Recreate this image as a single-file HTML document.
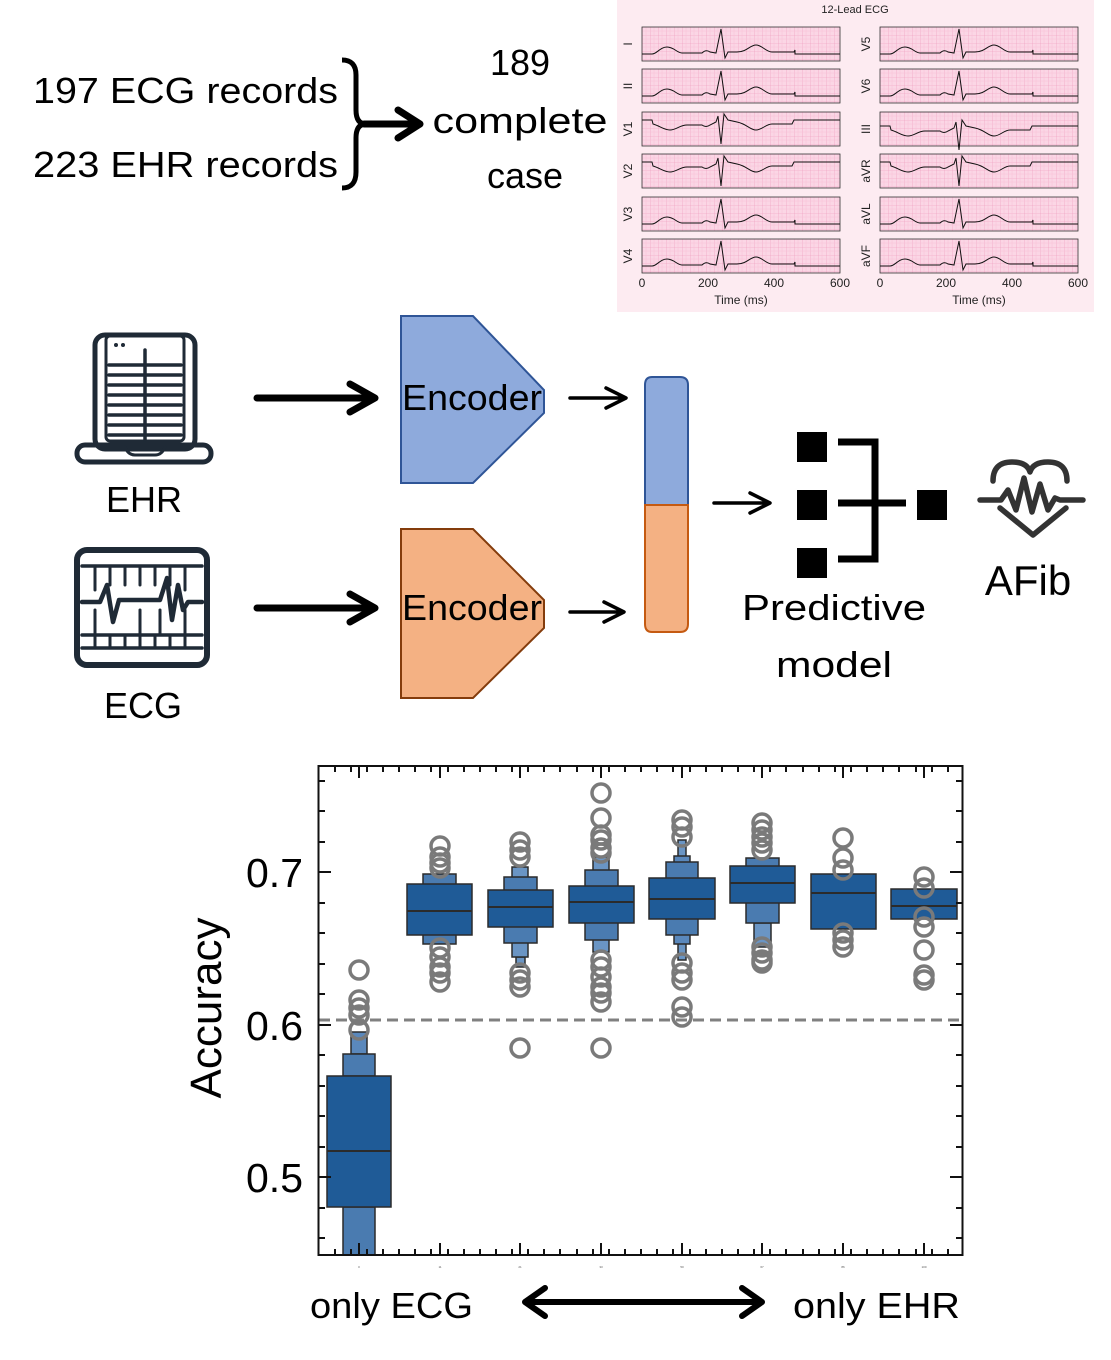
<!DOCTYPE html>
<html><head><meta charset="utf-8"><style>
html,body{margin:0;padding:0;background:#fff;}
svg{display:block;}
text{font-family:"Liberation Sans",sans-serif;}
</style></head><body>
<svg width="1111" height="1360" viewBox="0 0 1111 1360" xmlns="http://www.w3.org/2000/svg">
<defs>
<pattern id="grid" x="0" y="0" width="8" height="8" patternUnits="userSpaceOnUse">
<rect width="8" height="8" fill="#fbd6e5"/>
<path d="M0 0H8M0 0V8" stroke="#ee97bb" stroke-width="0.6"/>
<path d="M0 4H8M4 0V8" stroke="#f7bcd3" stroke-width="0.4"/>
</pattern>
<path id="tr" d="M0,27 L10,27 C15,27 18,20 25,20 C32,20 35,26 40,26 L60,26 Q64,22 68,25 L74,26 L79,2 L83,31 L86,25 L95,25 C105,25 108,18 114,18 C120,18 124,25 130,25 L152,25 L153,23 L153,27 L198,27" fill="none" stroke="#111" stroke-width="1"/>
<path id="tr2" d="M0,8 L10,8 L11,12 C18,14 22,18 28,18 C34,18 38,13 45,13 L60,13 Q64,16 68,13 L74,10 L76,4 L79,32 L82,2 L86,8 L95,10 C105,12 108,18 114,18 C120,18 124,12 130,12 L150,12 L152,8 L198,8" fill="none" stroke="#111" stroke-width="1"/>
</defs>

<!-- top-left text -->
<g font-size="36" fill="#000">
<text x="33" y="103" textLength="305" lengthAdjust="spacingAndGlyphs">197 ECG records</text>
<text x="33" y="177" textLength="305" lengthAdjust="spacingAndGlyphs">223 EHR records</text>
<text x="520" y="75" text-anchor="middle">189</text>
<text x="520" y="133" text-anchor="middle" textLength="175" lengthAdjust="spacingAndGlyphs">complete</text>
<text x="525" y="188" text-anchor="middle">case</text>
</g>
<path d="M342,60 Q356,60 356,75 L356,110 Q356,124 366,124 Q356,124 356,138 L356,172 Q356,188 342,188" fill="none" stroke="#000" stroke-width="5"/>
<path d="M364,124 H418 M398,110 L420,124 L398,138" fill="none" stroke="#000" stroke-width="7" stroke-linecap="round" stroke-linejoin="round"/>

<!-- ECG panel -->
<rect x="617" y="0" width="477" height="312" fill="#fdebf1"/>
<text x="855" y="13" font-size="11" text-anchor="middle" fill="#222">12-Lead ECG</text>
<g>
<g transform="translate(642,27)"><rect width="198" height="34" fill="url(#grid)" stroke="#333" stroke-width="0.8"/><use href="#tr"/></g>
<g transform="translate(642,69)"><rect width="198" height="34" fill="url(#grid)" stroke="#333" stroke-width="0.8"/><use href="#tr"/></g>
<g transform="translate(642,112)"><rect width="198" height="34" fill="url(#grid)" stroke="#333" stroke-width="0.8"/><use href="#tr2"/></g>
<g transform="translate(642,154)"><rect width="198" height="34" fill="url(#grid)" stroke="#333" stroke-width="0.8"/><use href="#tr2"/></g>
<g transform="translate(642,197)"><rect width="198" height="34" fill="url(#grid)" stroke="#333" stroke-width="0.8"/><use href="#tr"/></g>
<g transform="translate(642,239)"><rect width="198" height="34" fill="url(#grid)" stroke="#333" stroke-width="0.8"/><use href="#tr"/></g>
</g>
<g>
<g transform="translate(880,27)"><rect width="198" height="34" fill="url(#grid)" stroke="#333" stroke-width="0.8"/><use href="#tr"/></g>
<g transform="translate(880,69)"><rect width="198" height="34" fill="url(#grid)" stroke="#333" stroke-width="0.8"/><use href="#tr"/></g>
<g transform="translate(880,112)"><rect width="198" height="34" fill="url(#grid)" stroke="#333" stroke-width="0.8"/><use href="#tr2" transform="translate(0,6)"/></g>
<g transform="translate(880,154)"><rect width="198" height="34" fill="url(#grid)" stroke="#333" stroke-width="0.8"/><use href="#tr2"/></g>
<g transform="translate(880,197)"><rect width="198" height="34" fill="url(#grid)" stroke="#333" stroke-width="0.8"/><use href="#tr"/></g>
<g transform="translate(880,239)"><rect width="198" height="34" fill="url(#grid)" stroke="#333" stroke-width="0.8"/><use href="#tr"/></g>
</g>
<g font-size="12" fill="#222" text-anchor="middle">
<text transform="translate(632,44) rotate(-90)">I</text>
<text transform="translate(632,86) rotate(-90)">II</text>
<text transform="translate(632,129) rotate(-90)">V1</text>
<text transform="translate(632,171) rotate(-90)">V2</text>
<text transform="translate(632,214) rotate(-90)">V3</text>
<text transform="translate(632,256) rotate(-90)">V4</text>
<text transform="translate(870,44) rotate(-90)">V5</text>
<text transform="translate(870,86) rotate(-90)">V6</text>
<text transform="translate(870,129) rotate(-90)">III</text>
<text transform="translate(870,171) rotate(-90)">aVR</text>
<text transform="translate(870,214) rotate(-90)">aVL</text>
<text transform="translate(870,256) rotate(-90)">aVF</text>
<text x="642" y="287">0</text><text x="708" y="287">200</text><text x="774" y="287">400</text><text x="840" y="287">600</text>
<text x="880" y="287">0</text><text x="946" y="287">200</text><text x="1012" y="287">400</text><text x="1078" y="287">600</text>
<text x="741" y="304">Time (ms)</text><text x="979" y="304">Time (ms)</text>
</g>

<!-- EHR icon -->
<g fill="none" stroke="#1f2a36" stroke-width="5" stroke-linecap="round">
<rect x="95" y="335" width="100" height="114" rx="10"/>
<rect x="106" y="336" width="78" height="105" rx="4" stroke-width="3"/>
<path d="M109,365 H181 M109,375 H181 M109,385 H181 M109,395 H181 M109,405 H181 M109,415 H181 M109,425 H181 M109,435 H181" stroke-width="3.5"/>
<path d="M145,350 V440" stroke-width="3.5"/>
<rect x="77" y="445" width="134" height="17" rx="8"/>
<path d="M125,447 Q128,455 135,455 H155 Q162,455 165,447" stroke-width="3"/>
</g>
<circle cx="116" cy="345" r="2" fill="#1f2a36"/><circle cx="123" cy="345" r="2" fill="#1f2a36"/>
<text x="144" y="512" font-size="36" text-anchor="middle">EHR</text>

<!-- ECG icon -->
<g fill="none" stroke="#1f2a36" stroke-linecap="round">
<rect x="77" y="550" width="130" height="115" rx="10" stroke-width="6"/>
<path d="M82,566 H202 M82,648 H202 M82,635 H202" stroke-width="3.5"/>
<path d="M95,566 V590 M110,566 V585 M125,566 V585 M140,566 V585 M155,566 V585 M170,566 V585 M185,566 V590 M95,610 V635 M140,610 V635 M160,610 V635 M185,610 V635 M95,635 V648 M110,635 V648 M125,635 V648 M140,635 V648 M155,635 V648 M170,635 V648 M185,635 V648" stroke-width="3"/>
<path d="M82,602 H100 L107,585 L113,622 L119,600 H160 L167,578 L172,620 L178,585 L183,610 L188,602 H202" stroke-width="4.5" stroke-linejoin="round"/>
</g>
<text x="143" y="718" font-size="36" text-anchor="middle">ECG</text>

<!-- thick arrows -->
<g fill="none" stroke="#000" stroke-width="7" stroke-linecap="round" stroke-linejoin="round">
<path d="M257,398 H372 M350,384 L375,398 L350,412"/>
<path d="M257,608 H372 M350,594 L375,608 L350,622"/>
</g>

<!-- encoders -->
<polygon points="401,316 473,316 544,390 544,413 473,483 401,483" fill="#8eaadc" stroke="#2f5597" stroke-width="2"/>
<polygon points="401,529 473,529 544,600 544,628 473,698 401,698" fill="#f4b183" stroke="#843c0c" stroke-width="2"/>
<text x="472" y="410" font-size="36" text-anchor="middle" textLength="140" lengthAdjust="spacingAndGlyphs">Encoder</text>
<text x="472" y="620" font-size="36" text-anchor="middle" textLength="140" lengthAdjust="spacingAndGlyphs">Encoder</text>

<!-- small arrows -->
<g fill="none" stroke="#000" stroke-width="3.5" stroke-linecap="round" stroke-linejoin="round">
<path d="M570,398 H624 M606,388 L626,398 L606,408"/>
<path d="M570,612 H622 M604,602 L624,612 L604,622"/>
<path d="M714,503 H768 M750,493 L770,503 L750,513"/>
</g>

<!-- vector -->
<path d="M652,377 H680 Q688,377 688,385 V505 H645 V385 Q645,377 652,377 Z" fill="#8eaadc" stroke="#2f5597" stroke-width="2"/>
<path d="M645,505 H688 V624 Q688,632 680,632 H652 Q645,632 645,624 Z" fill="#f4b183" stroke="#c55a11" stroke-width="2"/>

<!-- predictive model icon -->
<g fill="#000">
<rect x="797" y="432" width="30" height="30"/>
<rect x="797" y="490" width="30" height="30"/>
<rect x="797" y="548" width="30" height="30"/>
<rect x="917" y="490" width="30" height="30"/>
</g>
<path d="M838,442 H875 V559 H838 M838,503 H906" fill="none" stroke="#000" stroke-width="7"/>
<text x="834" y="620" font-size="36" text-anchor="middle" textLength="184" lengthAdjust="spacingAndGlyphs">Predictive</text>
<text x="834" y="677" font-size="36" text-anchor="middle" textLength="116" lengthAdjust="spacingAndGlyphs">model</text>

<!-- heart -->
<g fill="none" stroke="#333" stroke-width="5.5" stroke-linecap="round" stroke-linejoin="round">
<path d="M993,481 Q993,462 1012,462 Q1027,462 1030,472 Q1033,462 1048,462 Q1067,462 1067,481"/>
<path d="M1000,508 L1033,535 L1066,508"/>
<path d="M980,500 H1001 L1008,490 L1016,510 L1024,478 L1032,512 L1040,484 L1048,510 L1055,498 L1060,500 H1083"/>
</g>
<text x="1028" y="595" font-size="42" text-anchor="middle">AFib</text>

<!-- plot -->
<g>
<line x1="319" y1="1020" x2="962" y2="1020" stroke="#808080" stroke-width="3" stroke-dasharray="11,6"/>
<g stroke="#2b2b2b" stroke-width="1.5">
<rect x="343" y="1207" width="32" height="48" fill="#4a7bb0"/>
<rect x="351" y="1032" width="16" height="22" fill="#5a88bc"/>
<rect x="343" y="1054" width="32" height="22" fill="#4a7bb0"/>
<rect x="327" y="1076" width="64" height="131" fill="#1f5b97"/>
<line x1="327" y1="1151" x2="391" y2="1151" stroke-width="2"/>
<rect x="423" y="874" width="33" height="70" fill="#4a7bb0"/>
<rect x="407" y="884" width="65" height="51" fill="#1f5b97"/>
<line x1="407" y1="911" x2="472" y2="911" stroke-width="2"/>
<rect x="516" y="957" width="9" height="10" fill="#6a95c4"/>
<rect x="512" y="867" width="16" height="90" fill="#6a95c4"/>
<rect x="504" y="877" width="33" height="66" fill="#4a7bb0"/>
<rect x="488" y="890" width="65" height="37" fill="#1f5b97"/>
<line x1="488" y1="907" x2="553" y2="907" stroke-width="2"/>
<rect x="593" y="857" width="16" height="95" fill="#6a95c4"/>
<rect x="585" y="870" width="33" height="70" fill="#4a7bb0"/>
<rect x="569" y="886" width="65" height="37" fill="#1f5b97"/>
<line x1="569" y1="902" x2="634" y2="902" stroke-width="2"/>
<rect x="678" y="840" width="8" height="120" fill="#6a95c4"/>
<rect x="674" y="856" width="16" height="88" fill="#5a88bc"/>
<rect x="666" y="862" width="32" height="73" fill="#4a7bb0"/>
<rect x="649" y="878" width="66" height="41" fill="#1f5b97"/>
<line x1="649" y1="899" x2="715" y2="899" stroke-width="2"/>
<rect x="754" y="923" width="17" height="24" fill="#6a95c4"/>
<rect x="746" y="858" width="33" height="65" fill="#4a7bb0"/>
<rect x="730" y="866" width="65" height="37" fill="#1f5b97"/>
<line x1="730" y1="883" x2="795" y2="883" stroke-width="2"/>
<rect x="811" y="874" width="65" height="55" fill="#1f5b97"/>
<line x1="811" y1="893" x2="876" y2="893" stroke-width="2"/>
<rect x="891" y="889" width="66" height="30" fill="#1f5b97"/>
<line x1="891" y1="906" x2="957" y2="906" stroke-width="2"/>
</g>
<g fill="none" stroke="#7a7a7a" stroke-width="3.5">
<circle cx="359" cy="970" r="9"/><circle cx="359" cy="1000" r="9"/><circle cx="359" cy="1008" r="9"/><circle cx="359" cy="1015" r="9"/><circle cx="359" cy="1030" r="9"/>
<circle cx="440" cy="846" r="9"/><circle cx="440" cy="857" r="9"/><circle cx="440" cy="863" r="9"/><circle cx="440" cy="868" r="9"/><circle cx="440" cy="948" r="9"/><circle cx="440" cy="957" r="9"/><circle cx="440" cy="967" r="9"/><circle cx="440" cy="973" r="9"/><circle cx="440" cy="982" r="9"/>
<circle cx="520" cy="842" r="9"/><circle cx="520" cy="850" r="9"/><circle cx="520" cy="857" r="9"/><circle cx="520" cy="973" r="9"/><circle cx="520" cy="980" r="9"/><circle cx="520" cy="987" r="9"/><circle cx="520" cy="1048" r="9"/>
<circle cx="601" cy="793" r="9"/><circle cx="601" cy="818" r="9"/><circle cx="601" cy="835" r="9"/><circle cx="601" cy="840" r="9"/><circle cx="601" cy="848" r="9"/><circle cx="601" cy="853" r="9"/><circle cx="601" cy="960" r="9"/><circle cx="601" cy="967" r="9"/><circle cx="601" cy="977" r="9"/><circle cx="601" cy="987" r="9"/><circle cx="601" cy="993" r="9"/><circle cx="601" cy="1002" r="9"/><circle cx="601" cy="1048" r="9"/>
<circle cx="682" cy="820" r="9"/><circle cx="682" cy="827" r="9"/><circle cx="682" cy="837" r="9"/><circle cx="682" cy="963" r="9"/><circle cx="682" cy="973" r="9"/><circle cx="682" cy="980" r="9"/><circle cx="682" cy="1007" r="9"/><circle cx="682" cy="1017" r="9"/>
<circle cx="762" cy="823" r="9"/><circle cx="762" cy="830" r="9"/><circle cx="762" cy="837" r="9"/><circle cx="762" cy="843" r="9"/><circle cx="762" cy="850" r="9"/><circle cx="762" cy="947" r="9"/><circle cx="762" cy="953" r="9"/><circle cx="762" cy="960" r="9"/><circle cx="762" cy="963" r="9"/>
<circle cx="843" cy="838" r="9"/><circle cx="843" cy="858" r="9"/><circle cx="843" cy="870" r="9"/><circle cx="843" cy="933" r="9"/><circle cx="843" cy="940" r="9"/><circle cx="843" cy="947" r="9"/>
<circle cx="924" cy="877" r="9"/><circle cx="924" cy="888" r="9"/><circle cx="924" cy="917" r="9"/><circle cx="924" cy="927" r="9"/><circle cx="924" cy="950" r="9"/><circle cx="924" cy="975" r="9"/><circle cx="924" cy="980" r="9"/>
</g>
<rect x="318.5" y="766" width="644" height="489" fill="none" stroke="#111" stroke-width="2"/>
<g stroke="#111" stroke-width="2">
<path d="M319,872 h12 M319,1025 h12 M319,1177 h12 M962,872 h-12 M962,1025 h-12 M962,1177 h-12"/>
<path d="M319,781 h6 M319,811 h6 M319,842 h6 M319,903 h6 M319,933 h6 M319,964 h6 M319,994 h6 M319,1055 h6 M319,1086 h6 M319,1116 h6 M319,1147 h6 M319,1208 h6 M319,1238 h6 M962,781 h-6 M962,811 h-6 M962,842 h-6 M962,903 h-6 M962,933 h-6 M962,964 h-6 M962,994 h-6 M962,1055 h-6 M962,1086 h-6 M962,1116 h-6 M962,1147 h-6 M962,1208 h-6 M962,1238 h-6"/>
<path d="M359,766 v12 M440,766 v12 M520,766 v12 M601,766 v12 M682,766 v12 M762,766 v12 M843,766 v12 M924,766 v12 M359,1255 v-12 M440,1255 v-12 M520,1255 v-12 M601,1255 v-12 M682,1255 v-12 M762,1255 v-12 M843,1255 v-12 M924,1255 v-12"/>
<path d="M335,766v6M351,766v6M367,766v6M383,766v6M399,766v6M415,766v6M431,766v6M448,766v6M464,766v6M480,766v6M496,766v6M512,766v6M528,766v6M544,766v6M560,766v6M577,766v6M593,766v6M609,766v6M625,766v6M641,766v6M657,766v6M673,766v6M690,766v6M706,766v6M722,766v6M738,766v6M754,766v6M770,766v6M786,766v6M803,766v6M819,766v6M835,766v6M851,766v6M867,766v6M883,766v6M899,766v6M916,766v6M932,766v6M948,766v6"/>
<path d="M335,1255v-6M351,1255v-6M367,1255v-6M383,1255v-6M399,1255v-6M415,1255v-6M431,1255v-6M448,1255v-6M464,1255v-6M480,1255v-6M496,1255v-6M512,1255v-6M528,1255v-6M544,1255v-6M560,1255v-6M577,1255v-6M593,1255v-6M609,1255v-6M625,1255v-6M641,1255v-6M657,1255v-6M673,1255v-6M690,1255v-6M706,1255v-6M722,1255v-6M738,1255v-6M754,1255v-6M770,1255v-6M786,1255v-6M803,1255v-6M819,1255v-6M835,1255v-6M851,1255v-6M867,1255v-6M883,1255v-6M899,1255v-6M916,1255v-6M932,1255v-6M948,1255v-6"/>
</g>
<g font-size="3" fill="#555" text-anchor="middle">
<text x="359" y="1268">0</text><text x="440" y="1268">11</text><text x="520" y="1268">21</text><text x="601" y="1268">33</text><text x="682" y="1268">50</text><text x="762" y="1268">67</text><text x="843" y="1268">86</text><text x="924" y="1268">100</text>
</g>
<g font-size="41" fill="#000" text-anchor="end">
<text x="303" y="887">0.7</text>
<text x="303" y="1040">0.6</text>
<text x="303" y="1192">0.5</text>
</g>
<text transform="translate(221,1008) rotate(-90)" font-size="44" text-anchor="middle">Accuracy</text>
</g>

<text x="310" y="1318" font-size="36" textLength="163" lengthAdjust="spacingAndGlyphs">only ECG</text>
<text x="793" y="1318" font-size="36" textLength="167" lengthAdjust="spacingAndGlyphs">only EHR</text>
<path d="M527,1302 H760 M545,1288 L525,1302 L545,1316 M742,1288 L762,1302 L742,1316" fill="none" stroke="#000" stroke-width="6" stroke-linecap="round" stroke-linejoin="round"/>
</svg>
</body></html>
